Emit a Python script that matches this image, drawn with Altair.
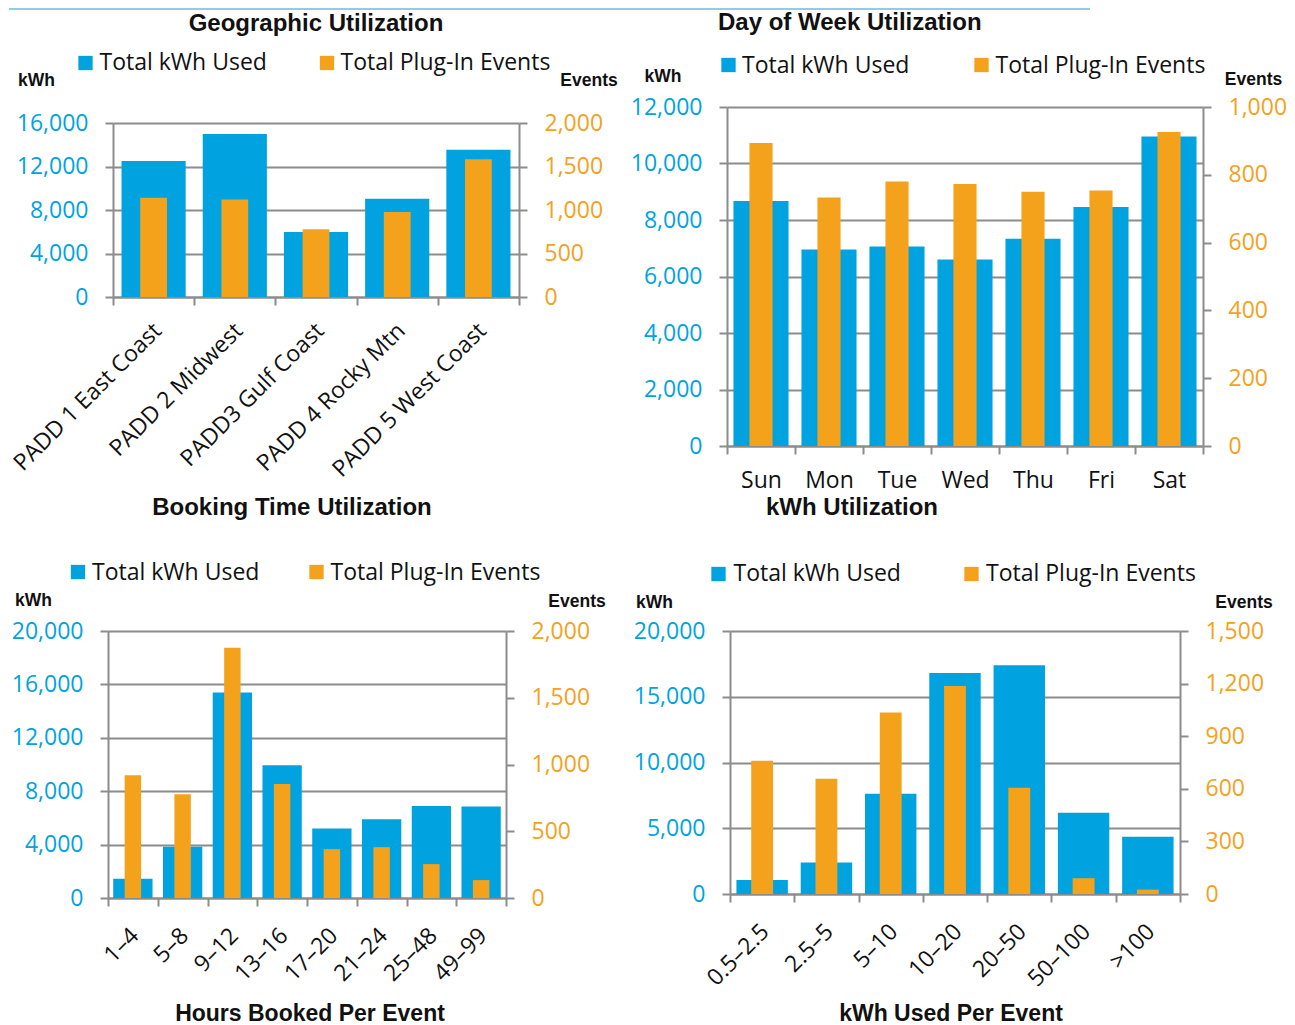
import altair as alt
import pandas as pd

BLUE = "#00A3E0"
ORANGE = "#F4A11C"
GRAY = "#8C8C8C"
TEAL = "#92CDDC"
LABEL_FONT = "Open Sans"
TITLE_FONT = "Liberation Sans"

# ---------------- data ----------------
geo_regions = ["PADD 1 East Coast", "PADD 2 Midwest", "PADD3 Gulf Coast",
               "PADD 4 Rocky Mtn", "PADD 5 West Coast"]
geo_kwh = [12500, 15000, 5970, 9040, 13530]
geo_events = [1140, 1120, 780, 977, 1582]

dow_days = ["Sun", "Mon", "Tue", "Wed", "Thu", "Fri", "Sat"]
dow_kwh = [8670, 6960, 7060, 6600, 7340, 8460, 10960]
dow_events = [894, 733, 780, 773, 750, 754, 926]

hours_bins = ["1–4", "5–8", "9–12", "13–16", "17–20", "21–24", "25–48", "49–99"]
hours_kwh = [1450, 3840, 15390, 9940, 5200, 5900, 6900, 6850]
hours_events = [919, 777, 1875, 854, 366, 381, 254, 134]

kwh_bins = ["0.5–2.5", "2.5–5", "5–10", "10–20", "20–50", "50–100", ">100"]
kwh_kwh = [1070, 2400, 7630, 16810, 17400, 6170, 4360]
kwh_events = [760, 658, 1035, 1186, 606, 90, 25]

geo_kwh_ticks = [0, 4000, 8000, 12000, 16000]
geo_ev_ticks = [0, 500, 1000, 1500, 2000]
dow_kwh_ticks = [0, 2000, 4000, 6000, 8000, 10000, 12000]
dow_ev_ticks = [0, 200, 400, 600, 800, 1000]
hours_kwh_ticks = [0, 4000, 8000, 12000, 16000, 20000]
hours_ev_ticks = [0, 500, 1000, 1500, 2000]
kwh_kwh_ticks = [0, 5000, 10000, 15000, 20000]
kwh_ev_ticks = [0, 300, 600, 900, 1200, 1500]

series_names = ["Total kWh Used", "Total Plug-In Events"]

EMPTY = alt.Data(values=[{}])


def txt(text, x, y, size=23, weight="normal", align="left", font=LABEL_FONT, color="#111111"):
    return alt.Chart(EMPTY).mark_text(
        text=text, align=align, baseline="alphabetic", font=font,
        fontSize=size, fontWeight=weight, color=color,
    ).encode(x=alt.value(x), y=alt.value(y))


def sq(x, y, color):
    return alt.Chart(EMPTY).mark_square(size=205, color=color, opacity=1).encode(
        x=alt.value(x), y=alt.value(y))


def panel(cats, kwh, events, kwh_ticks, ev_ticks, width, height, xshift, yrange,
          blue_band, orange_band, angle, lab_pad, lab_off, extras):
    df = pd.DataFrame({"cat": cats, "kwh": kwh, "events": events})
    xaxis = alt.Axis(title=None, labelAngle=angle, labelFont=LABEL_FONT, labelFontSize=23,
                     labelColor="#111111", tickBand="extent", tickSize=8, tickColor=GRAY,
                     tickWidth=2, domainColor=GRAY, domainWidth=2, labelPadding=lab_pad,
                     labelOffset=lab_off, labelLimit=400, grid=False, labelOverlap=False)
    xs = dict(paddingInner=0, paddingOuter=0)
    if xshift:
        xs["range"] = [xshift, width]
    xenc = alt.X("cat:N", sort=cats, axis=xaxis, scale=alt.Scale(**xs))
    sk = dict(domain=[0, kwh_ticks[-1]], nice=False)
    se = dict(domain=[0, ev_ticks[-1]], nice=False)
    if yrange:
        sk["range"] = yrange
        se["range"] = yrange
    blue = alt.Chart(df).mark_bar(color=BLUE, width=alt.RelativeBandSize(band=blue_band)).encode(
        x=xenc,
        y=alt.Y("kwh:Q", scale=alt.Scale(**sk), axis=alt.Axis(
            orient="left", values=kwh_ticks, format=",d", title=None, labelColor=BLUE,
            labelFont=LABEL_FONT, labelFontSize=23, labelPadding=17, tickSize=8,
            tickColor=GRAY, tickWidth=2, domainColor=GRAY, domainWidth=2, grid=True,
            gridColor=GRAY, gridWidth=2, labelOverlap=False, offset=-xshift)),
    )
    orange = alt.Chart(df).mark_bar(color=ORANGE, width=alt.RelativeBandSize(band=orange_band)).encode(
        x=xenc,
        y=alt.Y("events:Q", scale=alt.Scale(**se), axis=alt.Axis(
            orient="right", values=ev_ticks, format=",d", title=None, labelColor=ORANGE,
            labelFont=LABEL_FONT, labelFontSize=23, labelPadding=17, tickSize=8,
            tickColor=GRAY, tickWidth=2, domainColor=GRAY, domainWidth=2, grid=False,
            labelOverlap=False)),
    )
    return alt.layer(blue, orange, *extras).resolve_scale(y="independent").properties(
        width=width, height=height)


def legend(bx, by, tx, ty, ox, otx):
    return [sq(bx, by, BLUE), txt(series_names[0], tx, ty),
            sq(ox, by, ORANGE), txt(series_names[1], otx, ty)]


# Top-left: Geographic
tl_extras = [
    alt.Chart(EMPTY).mark_rule(color=TEAL, strokeWidth=2).encode(
        x=alt.value(-99), x2=alt.value(982), y=alt.value(-98)),
    txt("Geographic Utilization", 208, -76, size=24, weight="bold", align="center", font=TITLE_FONT),
    *legend(-22.5, -44, -8.5, -37, 219, 232.5),
    txt("kWh", -71.5, -21, size=17.5, weight="bold", align="center", font=TITLE_FONT),
    txt("Events", 481, -21, size=17.5, weight="bold", align="center", font=TITLE_FONT),
    txt("Booking Time Utilization", 184, 408, size=24, weight="bold", align="center", font=TITLE_FONT),
]
tl = panel(geo_regions, geo_kwh, geo_events, geo_kwh_ticks, geo_ev_ticks, 411, 190, 5, [190, 16],
           0.79, 0.33, -45, 14, -4, tl_extras)

# Top-right: Day of week
tr_extras = [
    txt("Day of Week Utilization", -9, -77, size=24, weight="bold", align="left", font=TITLE_FONT),
    *legend(1.5, -42, 15, -34, 254.5, 268.5),
    txt("kWh", -64, -25, size=17.5, weight="bold", align="center", font=TITLE_FONT),
    txt("Events", 526.5, -22, size=17.5, weight="bold", align="center", font=TITLE_FONT),
    txt("kWh Utilization", 125, 408, size=24, weight="bold", align="center", font=TITLE_FONT),
]
tr = panel(dow_days, dow_kwh, dow_events, dow_kwh_ticks, dow_ev_ticks, 476, 339, 0, None,
           0.81, 0.34, 0, 15, 0, tr_extras)

# Bottom-left: Hours booked
bl_extras = [
    *legend(-30, -59, -16, -51.5, 208.5, 222.5),
    txt("kWh", -74.5, -25, size=17.5, weight="bold", align="center", font=TITLE_FONT),
    txt("Events", 469, -24, size=17.5, weight="bold", align="center", font=TITLE_FONT),
    txt("Hours Booked Per Event", 202, 390, size=23, weight="bold", align="center", font=TITLE_FONT),
]
bl = panel(hours_bins, hours_kwh, hours_events, hours_kwh_ticks, hours_ev_ticks, 398, 267, 0, None,
           0.79, 0.33, -45, 18, -6, bl_extras)

# Bottom-right: kWh used per event
br_extras = [
    *legend(-8.5, -57, 6.5, -50, 244.5, 259),
    txt("kWh", -72.5, -23, size=17.5, weight="bold", align="center", font=TITLE_FONT),
    txt("Events", 517, -23, size=17.5, weight="bold", align="center", font=TITLE_FONT),
    txt("kWh Used Per Event", 224, 390, size=23, weight="bold", align="center", font=TITLE_FONT),
]
br = panel(kwh_bins, kwh_kwh, kwh_events, kwh_kwh_ticks, kwh_ev_ticks, 453, 263, 3, None,
           0.80, 0.34, -45, 18, -5, br_extras)

chart = alt.concat(tl, tr, bl, br, columns=2).properties(
    spacing={"row": 185, "column": 208}, bounds="flush", align="each", padding=0,
    background="white",
).configure_view(stroke="transparent", strokeWidth=0)

chart.save("out.html", embed_options={"renderer": "svg", "actions": False})
